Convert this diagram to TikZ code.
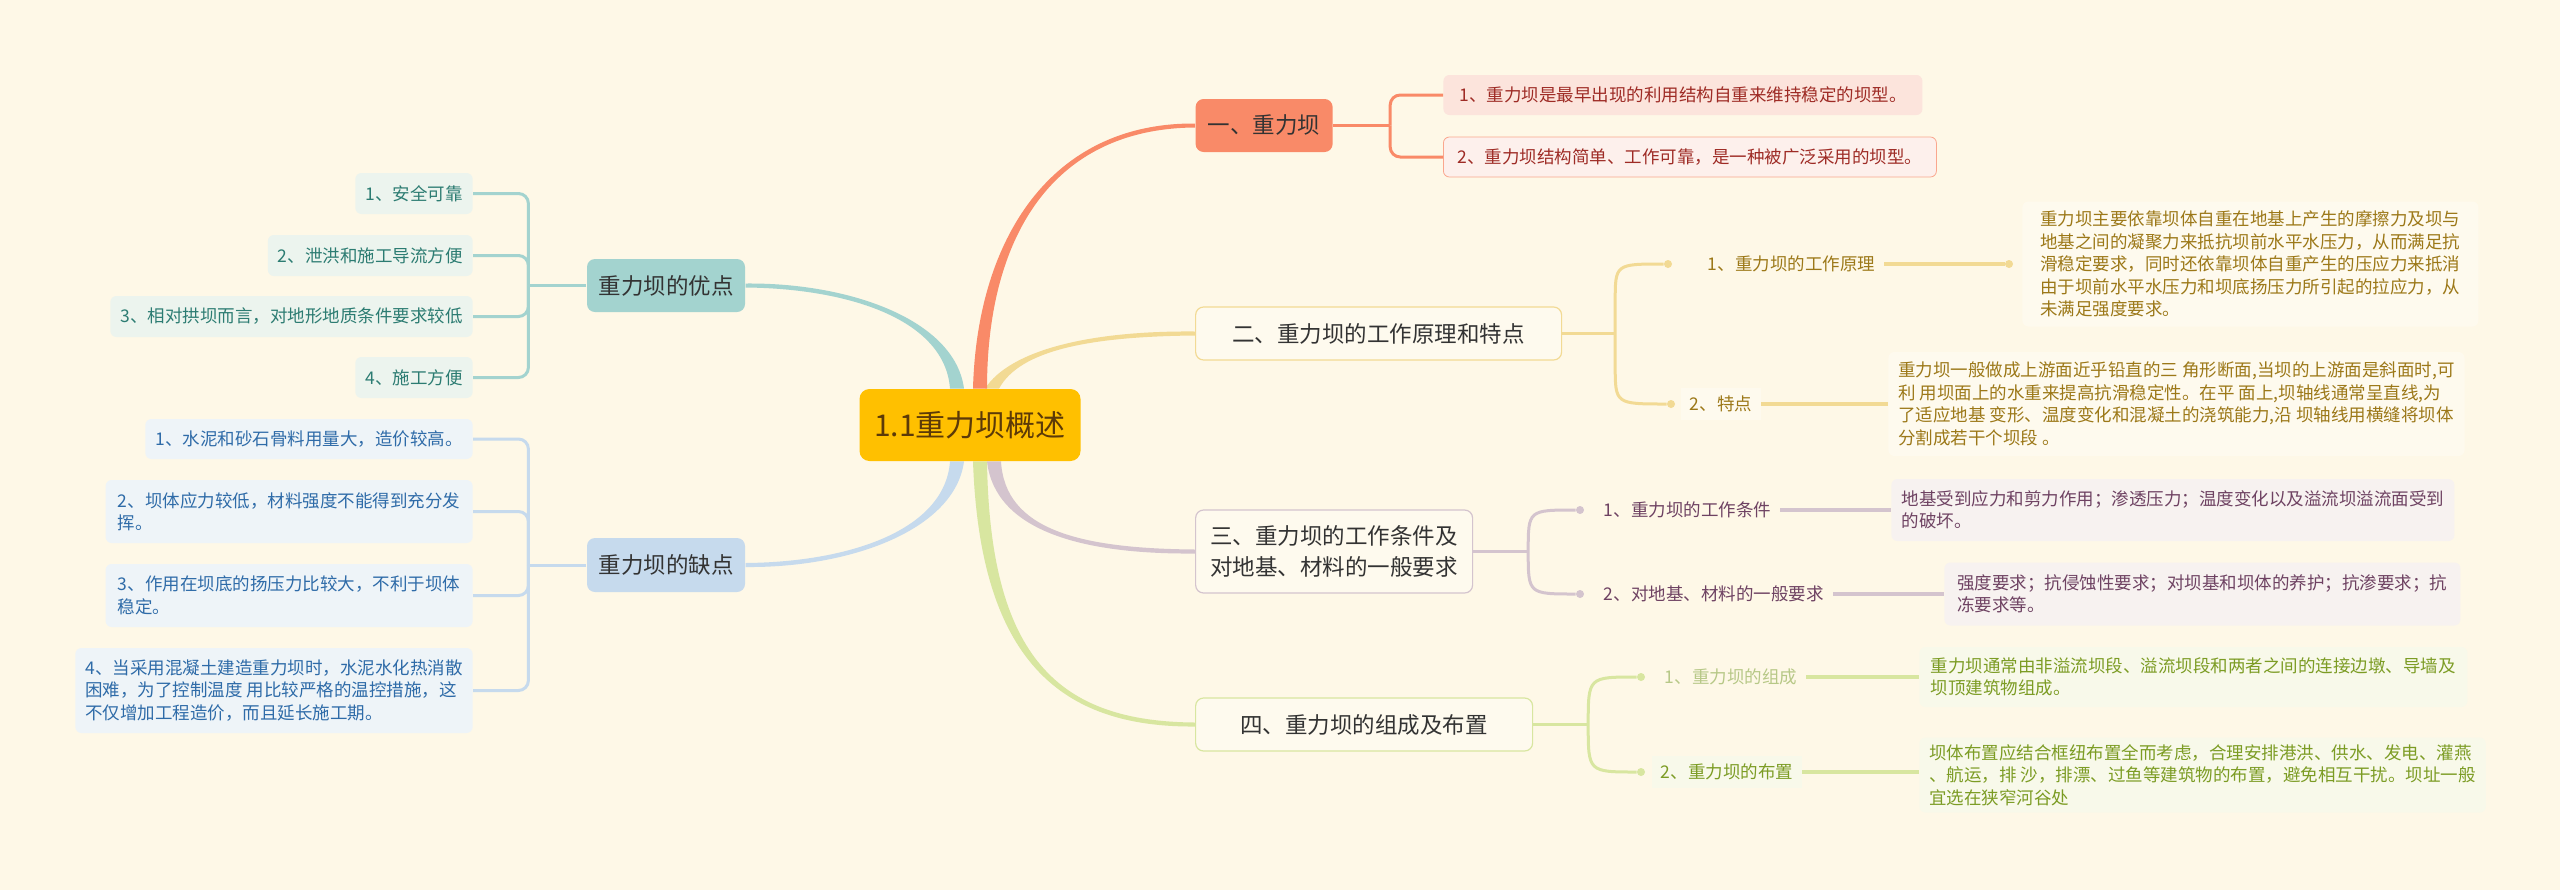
\documentclass[tikz,border=0pt]{standalone}
\usepackage{fontspec}
\setmainfont{Noto Sans CJK SC}
\usetikzlibrary{positioning,calc,backgrounds}
\definecolor{gdPaper}{HTML}{FEF8E7}
\definecolor{gdCard}{HTML}{FEFAEE}
\definecolor{gdInk}{HTML}{333333}
\definecolor{gdGold}{HTML}{FFC000}
\definecolor{gdGoldInk}{HTML}{5C3A08}
\definecolor{gdSalmon}{HTML}{F98A68}
\definecolor{gdBlush}{HTML}{FCE4DC}
\definecolor{gdRust}{HTML}{9E2B25}
\definecolor{gdWheat}{HTML}{F2DA94}
\definecolor{gdWheatInk}{HTML}{9C7818}
\definecolor{gdMauve}{HTML}{D4C4CE}
\definecolor{gdMauveFill}{HTML}{F7F2F0}
\definecolor{gdMauveInk}{HTML}{6E4262}
\definecolor{gdLime}{HTML}{D8E6A0}
\definecolor{gdLimeFill}{HTML}{F8F9EA}
\definecolor{gdLimeInk}{HTML}{7C9C24}
\definecolor{gdMint}{HTML}{A3D3CF}
\definecolor{gdMintFill}{HTML}{ECF4EE}
\definecolor{gdMintInk}{HTML}{2C7C72}
\definecolor{gdSky}{HTML}{C6DAED}
\definecolor{gdSkyFill}{HTML}{EEF4F8}
\definecolor{gdSkyInk}{HTML}{2E6BA8}
\newcommand{\gdtrunk}[6]{%
  \fill[#1] ($#2+(-7,0)$) .. controls ($#3+(-5,0)$) and ($#4+(0,{3*(#6)})$) .. ($#5+(0,{2*(#6)})$)
    -- ($#5+(0,{-2*(#6)})$) .. controls ($#4+(0,{-3*(#6)})$) and ($#3+(5,0)$) .. ($#2+(7,0)$) -- cycle;}

\begin{document}
\begin{tikzpicture}[x=0.5pt,y=-0.5pt,
  title/.style={fill=gdGold,rounded corners=5pt,text=gdGoldInk,font=\fontsize{15pt}{18pt}\selectfont,minimum width=110.5pt,minimum height=36pt},
  topic/.style={rounded corners=4pt,text=gdInk,font=\fontsize{11.25pt}{15.75pt}\selectfont,minimum height=26.5pt,align=center,line width=0.6pt},
  leaf/.style={rounded corners=3pt,font=\fontsize{8.75pt}{11.25pt}\selectfont,minimum height=20pt,inner xsep=5pt,align=left},
  item/.style={font=\fontsize{8.75pt}{11.25pt}\selectfont,inner xsep=4.5pt,inner ysep=4pt},
  knot/.style={circle,inner sep=0pt,minimum size=4pt},
  link/.style={line width=1.5pt},
  stem/.style={line width=2pt}
]
  \useasboundingbox (0,0) rectangle (2560,890);

  \node[title] (ctr) at (970,425) {1.1重力坝概述};
  \node[topic,fill=gdSalmon,anchor=west,minimum width=68.5pt] (dam) at (1195,125.5) {一、重力坝};
  \node[topic,draw=gdWheat,fill=gdCard,anchor=west,minimum width=183pt] (principle) at (1195,333.5) {二、重力坝的工作原理和特点};
  \node[topic,draw=gdMauve,fill=gdCard,anchor=west,minimum width=138.5pt,minimum height=41.5pt] (cond) at (1195,551.5) {三、重力坝的工作条件及\\对地基、材料的一般要求};
  \node[topic,draw=gdLime,fill=gdCard,anchor=west,minimum width=168.5pt] (layout) at (1195,724.5) {四、重力坝的组成及布置};
  \node[topic,fill=gdMint,minimum width=79pt] (merit) at (666,285.5) {重力坝的优点};
  \node[topic,fill=gdSky,minimum width=79pt,minimum height=27pt] (defect) at (666,565) {重力坝的缺点};

  \node[leaf,fill=gdBlush,text=gdRust,anchor=west,minimum width=239.5pt] (d1a) at (1443,95) {1、重力坝是最早出现的利用结构自重来维持稳定的坝型。};
  \node[leaf,fill=gdBlush!55!white,draw=gdSalmon!75,text=gdRust,anchor=west,minimum width=246.5pt] (d1b) at (1443,157) {2、重力坝结构简单、工作可靠，是一种被广泛采用的坝型。};
  \coordinate (jd) at ($(dam.east)+(57,0)$);
  \draw[link,gdSalmon] (dam.east) -- (jd);
  \draw[link,gdSalmon,rounded corners=5pt] (jd) |- (d1a.west);
  \draw[link,gdSalmon,rounded corners=5pt] (jd) |- (d1b.west);

  \node[knot,fill=gdWheat] (p21) at (1668,264) {};
  \node[knot,fill=gdWheat] (p22) at (1671,404) {};
  \node[item,text=gdWheatInk,right=13pt of p21] (c21) {1、重力坝的工作原理};
  \node[item,fill=gdCard,text=gdWheatInk,right=2.5pt of p22] (c22) {2、特点};
  \node[leaf,fill=gdCard,text=gdWheatInk,anchor=west,minimum width=228pt,minimum height=62.5pt] (e21) at (2022,264) {重力坝主要依靠坝体自重在地基上产生的摩擦力及坝与\\地基之间的凝聚力来抵抗坝前水平水压力，从而满足抗\\滑稳定要求，同时还依靠坝体自重产生的压应力来抵消\\由于坝前水平水压力和坝底扬压力所引起的拉应力，从\\未满足强度要求。};
  \node[leaf,fill=gdCard,text=gdWheatInk,anchor=west,minimum width=287.5pt,minimum height=52pt] (e22) at (1888,404) {重力坝一般做成上游面近乎铅直的三 角形断面,当坝的上游面是斜面时,可\\利 用坝面上的水重来提高抗滑稳定性。在平 面上,坝轴线通常呈直线,为\\了适应地基 变形、温度变化和混凝土的浇筑能力,沿 坝轴线用横缝将坝体\\分割成若干个坝段 。};
  \node[knot,fill=gdWheat] (q21) at ($(e21.west)+(-13,0)$) {};
  \coordinate (j2) at ($(principle.east)+(53,0)$);
  \draw[link,gdWheat] (principle.east) -- (j2);
  \draw[link,gdWheat] (p21.west) .. controls (j2 |- p21) .. ($(j2)+(0,-32)$) -- ($(j2)+(0,32)$) .. controls (j2 |- p22) .. (p22.west);
  \draw[stem,gdWheat] (c21) -- (q21);
  \draw[stem,gdWheat] (c22) -- (e22);

  \node[knot,fill=gdMauve] (p31) at (1580,510) {};
  \node[knot,fill=gdMauve] (p32) at (1580,594) {};
  \node[item,text=gdMauveInk,right=5pt of p31] (c31) {1、重力坝的工作条件};
  \node[item,text=gdMauveInk,right=5pt of p32] (c32) {2、对地基、材料的一般要求};
  \node[leaf,fill=gdMauveFill,text=gdMauveInk,anchor=west,minimum width=281.5pt,minimum height=31pt] (e31) at (1891,510) {地基受到应力和剪力作用；渗透压力；温度变化以及溢流坝溢流面受到\\的破坏。};
  \node[leaf,fill=gdMauveFill,text=gdMauveInk,anchor=west,minimum width=258pt,minimum height=31.5pt] (e32) at (1944,594) {强度要求；抗侵蚀性要求；对坝基和坝体的养护；抗渗要求；抗\\冻要求等。};
  \coordinate (j3) at ($(cond.east)+(55,0)$);
  \draw[link,gdMauve] (cond.east) -- (j3);
  \draw[link,gdMauve] (p31.west) .. controls (j3 |- p31) .. (j3) .. controls (j3 |- p32) .. (p32.west);
  \draw[stem,gdMauve] (c31) -- (e31);
  \draw[stem,gdMauve] (c32) -- (e32);

  \node[knot,fill=gdLime] (p41) at (1641,677) {};
  \node[knot,fill=gdLime] (p42) at (1641,772) {};
  \node[item,text=gdLimeInk!55!white,right=5pt of p41] (c41) {1、重力坝的组成};
  \node[item,fill=gdLimeFill,text=gdLimeInk,right=3pt of p42] (c42) {2、重力坝的布置};
  \node[leaf,fill=gdLimeFill,text=gdLimeInk,anchor=west,minimum width=274pt,minimum height=30pt] (e41) at (1919,677) {重力坝通常由非溢流坝段、溢流坝段和两者之间的连接边墩、导墙及\\坝顶建筑物组成。};
  \node[leaf,fill=gdLimeFill,text=gdLimeInk,anchor=west,minimum width=279.5pt,minimum height=37.5pt] (e42) at (1919,775) {坝体布置应结合框纽布置全而考虑，合理安排港洪、供水、发电、灌燕\\、航运，排 沙，排漂、过鱼等建筑物的布置，避免相互干扰。坝址一般\\宜选在狭窄河谷处};
  \coordinate (j4) at ($(layout.east)+(55,0)$);
  \draw[link,gdLime] (layout.east) -- (j4);
  \draw[link,gdLime] (p41.west) .. controls (j4 |- p41) .. (j4) .. controls (j4 |- p42) .. (p42.west);
  \draw[stem,gdLime] (c41) -- (e41);
  \draw[stem,gdLime] (c42) -- (c42 -| e42.west);

  \node[leaf,fill=gdMintFill,text=gdMintInk,anchor=east,minimum width=57.5pt,minimum height=20.5pt] (m1) at (473,193.5) {1、安全可靠};
  \node[leaf,fill=gdMintFill,text=gdMintInk,anchor=east,minimum width=101pt,minimum height=20.5pt] (m2) at (473,255.5) {2、泄洪和施工导流方便};
  \node[leaf,fill=gdMintFill,text=gdMintInk,anchor=east,minimum width=180.5pt,minimum height=20.5pt] (m3) at (473,316.5) {3、相对拱坝而言，对地形地质条件要求较低};
  \node[leaf,fill=gdMintFill,text=gdMintInk,anchor=east,minimum width=57.5pt,minimum height=20.5pt] (m4) at (473,377.5) {4、施工方便};
  \coordinate (jm) at ($(merit.west)+(-58,0)$);
  \draw[link,gdMint] (merit.west) -- (jm);
  \draw[link,gdMint,rounded corners=5pt] (jm) |- (m1.east);
  \draw[link,gdMint,rounded corners=5pt] (jm) |- (m2.east);
  \draw[link,gdMint,rounded corners=5pt] (jm) |- (m3.east);
  \draw[link,gdMint,rounded corners=5pt] (jm) |- (m4.east);

  \node[leaf,fill=gdSkyFill,text=gdSkyInk,anchor=east,minimum width=163pt] (f1) at (473,439) {1、水泥和砂石骨料用量大，造价较高。};
  \node[leaf,fill=gdSkyFill,text=gdSkyInk,anchor=east,minimum width=183.5pt,minimum height=31.5pt] (f2) at (473,511.5) {2、坝体应力较低，材料强度不能得到充分发\\挥。};
  \node[leaf,fill=gdSkyFill,text=gdSkyInk,anchor=east,minimum width=183.5pt,minimum height=31.5pt] (f3) at (473,595.5) {3、作用在坝底的扬压力比较大，不利于坝体\\稳定。};
  \node[leaf,fill=gdSkyFill,text=gdSkyInk,anchor=east,minimum width=198.5pt,minimum height=42.5pt] (f4) at (473,690.5) {4、当采用混凝土建造重力坝时，水泥水化热消散\\困难，为了控制温度 用比较严格的温控措施，这\\不仅增加工程造价，而且延长施工期。};
  \coordinate (jf) at ($(defect.west)+(-58,0)$);
  \draw[link,gdSky] (defect.west) -- (jf);
  \draw[link,gdSky,rounded corners=5pt] (jf) |- (f1.east);
  \draw[link,gdSky,rounded corners=5pt] (jf) |- (f2.east);
  \draw[link,gdSky,rounded corners=5pt] (jf) |- (f3.east);
  \draw[link,gdSky,rounded corners=5pt] (jf) |- (f4.east);

  \begin{scope}[on background layer]
    \fill[gdPaper] (0,0) rectangle (2560,890);
    \gdtrunk{gdWheat}{(ctr.north)+(22,0)}{(1015,350)}{(1090,333.5)}{(principle.west)}{-1}
    \gdtrunk{gdMint}{(ctr.north)+(-13,0)}{(950,320)}{(850,285.5)}{(merit.east)}{1}
    \gdtrunk{gdSalmon}{(ctr.north)+(10,0)}{(982,240)}{(1050,125.5)}{(dam.west)}{-1}
    \gdtrunk{gdMauve}{(ctr.south)+(24,0)}{(1000,530)}{(1080,551.5)}{(cond.west)}{1}
    \gdtrunk{gdLime}{(ctr.south)+(10,0)}{(985,660)}{(1060,724.5)}{(layout.west)}{1}
    \gdtrunk{gdSky}{(ctr.south)+(-13,0)}{(950,530)}{(850,565)}{(defect.east)}{-1}
  \end{scope}
\end{tikzpicture}
\end{document}
